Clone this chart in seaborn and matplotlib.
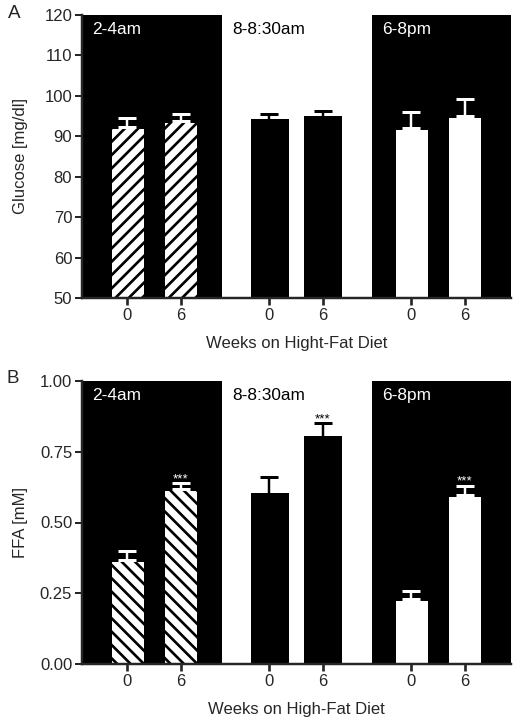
import numpy as np
import pandas as pd
import matplotlib
matplotlib.use('Agg')
import matplotlib.pyplot as plt
import seaborn as sns

# time-of-day groups, two bars each (0 and 6 weeks on diet)
periods = ['2-4am', '8-8:30am', '6-8pm']
weeks = ['0', '6']

glucose_mean = [92.3, 93.9, 94.1, 94.8, 92.1, 95.0]
glucose_sem = [2.3, 1.7, 1.5, 1.4, 3.9, 4.1]

ffa_mean = [0.367, 0.617, 0.600, 0.803, 0.229, 0.597]
ffa_sem = [0.033, 0.021, 0.060, 0.047, 0.029, 0.032]
ffa_stars = ['', '***', '', '***', '', '***']

# layout of the x axis (bar centres, shaded blocks)
bar_pos = [0, 1, 2.65, 3.65, 5.3, 6.3]
x_lim = (-0.845, 7.16)
region_left = [-0.845, 1.772, 4.56]
dark_blocks = [(-0.845, 1.772), (4.56, 7.16)]

face_colors = ['white', 'black', 'white']
ink_colors = ['white', 'black', 'white']

DPI = 80
sns.set_style('ticks')
plt.rcParams['font.family'] = ['Liberation Sans', 'DejaVu Sans']
plt.rcParams['hatch.linewidth'] = 2.4

fig = plt.figure(figsize=(517 / DPI, 724 / DPI), dpi=DPI)


def draw_panel(ax, means, sems, hatch, ylim, yticks, ytick_labels, ylabel, xlabel, stars=None):
    for a, b in dark_blocks:
        ax.axvspan(a, b, color='black', lw=0, zorder=0)

    for g in range(3):
        idx = [2 * g, 2 * g + 1]
        df = pd.DataFrame({'pos': [bar_pos[i] for i in idx],
                           'value': [means[i] for i in idx]})
        sns.barplot(data=df, x='pos', y='value', native_scale=True,
                    color=face_colors[g], saturation=1, edgecolor='black',
                    linewidth=2.7, width=0.654, errorbar=None,
                    hatch=hatch if g == 0 else None, ax=ax)
        ax.errorbar([bar_pos[i] for i in idx], [means[i] for i in idx],
                    yerr=[np.zeros(2), [sems[i] for i in idx]], fmt='none',
                    ecolor=ink_colors[g], elinewidth=2.2, capsize=8.5,
                    capthick=2.7, zorder=3)
        ax.text(region_left[g] + 0.19, 0.95, periods[g], color=ink_colors[g],
                transform=ax.get_xaxis_transform(), fontsize=15.5,
                ha='left', va='center')
        if stars is not None:
            for i in idx:
                if stars[i]:
                    ax.annotate(stars[i], (bar_pos[i], means[i] + sems[i]),
                                xytext=(0, 1), textcoords='offset points',
                                ha='center', va='baseline', fontsize=12,
                                color=ink_colors[g])

    ax.set_xlim(*x_lim)
    ax.set_ylim(*ylim)
    ax.set_xticks(bar_pos)
    ax.set_xticklabels(weeks * 3)
    ax.set_yticks(yticks)
    ax.set_yticklabels(ytick_labels)
    sns.despine(ax=ax)
    for s in ['left', 'bottom']:
        ax.spines[s].set_linewidth(2.2)
    ax.tick_params(axis='y', length=6.3, width=1.8, labelsize=15, pad=2.5)
    ax.tick_params(axis='x', length=6.3, width=2.4, labelsize=15, pad=3)
    ax.set_ylabel(ylabel, fontsize=15)
    ax.set_xlabel(xlabel, fontsize=15)
    ax.yaxis.set_label_coords(-0.125, 0.5)
    ax.xaxis.set_label_coords(0.5, -0.135)


ax_a = fig.add_axes([82 / 517, 1 - 298 / 724, 429 / 517, 283 / 724])
gl_ticks = list(range(50, 121, 10))
draw_panel(ax_a, glucose_mean, glucose_sem, '//', (50, 120), gl_ticks,
           [str(t) for t in gl_ticks], 'Glucose [mg/dl]', 'Weeks on Hight-Fat Diet')

ax_b = fig.add_axes([82 / 517, 1 - 664 / 724, 429 / 517, 283 / 724])
ffa_ticks = [0, 0.25, 0.5, 0.75, 1.0]
draw_panel(ax_b, ffa_mean, ffa_sem, '\\\\', (0, 1.0), ffa_ticks,
           [f'{t:.2f}' for t in ffa_ticks], 'FFA [mM]', 'Weeks on High-Fat Diet',
           stars=ffa_stars)

fig.text(8 / 517, 1 - 13 / 724, 'A', fontsize=17, ha='left', va='center')
fig.text(7 / 517, 1 - 378 / 724, 'B', fontsize=17, ha='left', va='center')

fig.savefig('out.png', dpi=DPI)
